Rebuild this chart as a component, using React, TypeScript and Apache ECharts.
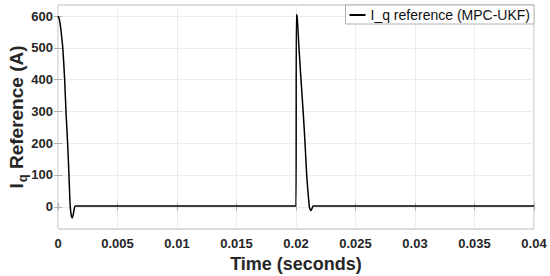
import React, { useEffect, useRef } from "react";
import * as echarts from "echarts";

const timeValues: number[] = [
  0, 0.0001, 0.0002, 0.0003, 0.0004, 0.00056, 0.00067, 0.00081, 0.00092, 0.00103,
  0.00112, 0.0012, 0.00128, 0.00136, 0.00145, 0.002, 0.005, 0.01, 0.015, 0.0199,
  0.02, 0.02003, 0.0201, 0.02025, 0.02042, 0.0206, 0.02076, 0.0209, 0.02112,
  0.0212, 0.02126, 0.02135, 0.02145, 0.022, 0.025, 0.03, 0.035, 0.04,
];
const currentValues: number[] = [
  600, 592, 570, 538, 500, 400, 300, 200, 100, 0,
  -28, -35, -25, -8, 2, 2, 2, 2, 2, 2,
  2, 605, 595, 500, 400, 300, 200, 100, 0,
  -9, -12, -5, 2, 2, 2, 2, 2, 2,
];
const yTicks: number[] = [0, 100, 200, 300, 400, 500, 600];
const seriesName = "I_q reference (MPC-UKF)";

export default function App() {
  const ref = useRef<HTMLDivElement>(null);
  useEffect(() => {
    if (!ref.current) return;
    const chart = echarts.init(ref.current, null, { renderer: "svg" });
    const data = timeValues.map((t, i) => [t, currentValues[i]]);
    const font = "Liberation Sans, Arial, sans-serif";
    const tickLabel = { color: "#262626", fontWeight: "bold" as const, fontSize: 13, fontFamily: font };
    chart.setOption({
      animation: false,
      backgroundColor: "#ffffff",
      grid: {
        left: 58, right: 16, top: 5, bottom: 47,
        containLabel: false,
        outerBoundsMode: "none",
        show: true, borderColor: "#b8b8b8", borderWidth: 1,
      },
      legend: {
        show: true,
        right: 16, top: 5,
        data: [seriesName],
        icon: "rect",
        backgroundColor: "#ffffff",
        borderColor: "#b0b0b0",
        borderWidth: 1,
        borderRadius: 0,
        padding: [3, 4, 2, 4],
        itemWidth: 16, itemHeight: 2, itemGap: 2,
        textStyle: { fontSize: 14, color: "#111", fontFamily: font },
      },
      xAxis: [
        {
          type: "value", min: 0, max: 0.04, interval: 0.005,
          name: "Time (seconds)", nameLocation: "middle", nameGap: 24,
          nameTextStyle: { fontSize: 18, fontWeight: "bold", color: "#262626", fontFamily: font },
          axisLine: { show: false },
          axisTick: { show: true, inside: true, length: 4, lineStyle: { color: "#b0b0b0" } },
          axisLabel: { ...tickLabel, margin: 8 },
          splitLine: { show: true, lineStyle: { color: "#ececec", width: 1 } },
        },
        {
          type: "value", min: 0, max: 0.04, interval: 0.005, position: "top",
          axisLine: { show: false },
          axisTick: { show: true, inside: true, length: 4, lineStyle: { color: "#b0b0b0" } },
          axisLabel: { show: false },
          splitLine: { show: false },
        },
      ],
      yAxis: [
        {
          type: "value", min: -70, max: 635,
          name: "{i|I}{q|q}{r| Reference (A)}", nameLocation: "middle", nameGap: 29,
          nameMoveOverlap: false,
          nameTextStyle: {
            fontFamily: font, color: "#262626",
            rich: {
              i: { fontSize: 19, fontWeight: "bold", color: "#262626", fontFamily: font },
              q: { fontSize: 13, fontWeight: "bold", color: "#262626", fontFamily: font, padding: [12, 0, 0, 1] },
              r: { fontSize: 19, fontWeight: "bold", color: "#262626", fontFamily: font },
            },
          },
          axisLine: { show: false },
          axisTick: { show: true, inside: true, length: 4, customValues: yTicks, lineStyle: { color: "#b0b0b0" } },
          axisLabel: { ...tickLabel, margin: 5, customValues: yTicks },
          splitLine: { show: true, lineStyle: { color: "#ececec", width: 1 } },
        },
        {
          type: "value", min: -70, max: 635, position: "right",
          axisLine: { show: false },
          axisTick: { show: true, inside: true, length: 4, customValues: yTicks, lineStyle: { color: "#b0b0b0" } },
          axisLabel: { show: false, customValues: yTicks },
          splitLine: { show: false },
        },
      ],
      series: [
        {
          name: seriesName,
          type: "line",
          data,
          symbol: "none",
          showSymbol: false,
          smooth: 0.3,
          lineStyle: { color: "#000000", width: 1.5 },
          itemStyle: { color: "#000000" },
        },
      ],
    });
    return () => chart.dispose();
  }, []);
  return <div ref={ref} style={{ width: 550, height: 276, position: "absolute", left: 0, top: 0 }} />;
}
